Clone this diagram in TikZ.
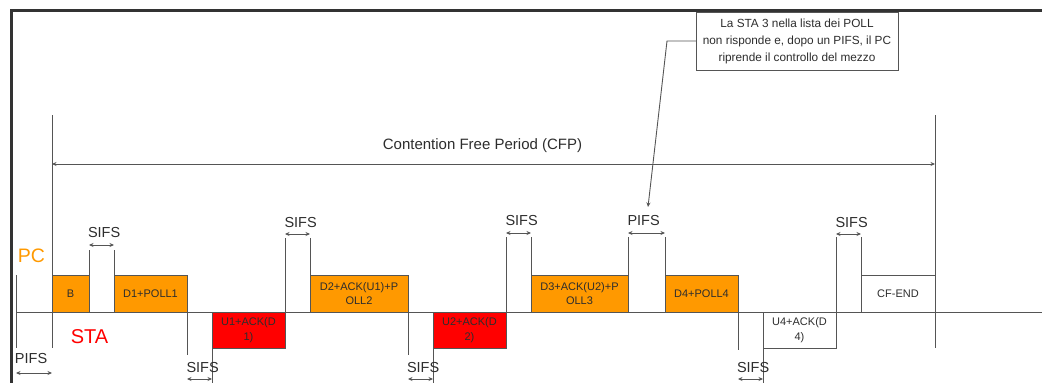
\documentclass[tikz,border=0pt]{standalone}
\usepackage{fontspec}
\setmainfont{Liberation Sans}
\usetikzlibrary{arrows.meta}
\definecolor{pcorange}{RGB}{255,153,0}
\definecolor{stared}{RGB}{255,0,0}
\definecolor{ink}{RGB}{45,45,45}
\definecolor{linec}{RGB}{85,85,85}
\begin{document}
\begin{tikzpicture}[x=1pt,y=-1pt,
  every node/.style={inner sep=0pt, outer sep=0pt},
  pkt/.style={draw=linec, line width=0.8pt, fill=pcorange, align=center,
    font=\fontsize{11}{14.5}\selectfont, text=ink, minimum height=37pt},
  upkt/.style={pkt, fill=stared, minimum height=36pt},
  wpkt/.style={pkt, fill=white},
  vline/.style={draw=linec, line width=0.9pt},
  lab/.style={font=\fontsize{14.5}{16}\selectfont, text=ink, anchor=west},
  span/.style={draw=linec, line width=0.8pt,
    {Stealth[length=4.5pt,width=4pt]}-{Stealth[length=4.5pt,width=4pt]}},
  ptr/.style={draw=linec, line width=0.9pt, -{Stealth[length=4.5pt,width=4pt]}},
  callout/.style={draw=linec, line width=1pt, fill=white, align=center,
    font=\fontsize{11.8}{17}\selectfont, text=ink,
    minimum width=202pt, minimum height=58pt}
]
\useasboundingbox (0,0) rectangle (1042,383);
% frame
\draw[line width=3pt, draw=black!80] (11.5,383) -- (11.5,10.5) -- (1042,10.5);

% time line
\draw[vline] (16,312) -- (1042,312);

% packets
\node[pkt, minimum width=37pt] (B) at (70.5,293.5) {B};
\node[pkt, minimum width=73pt] (D1) at (150.5,293.5) {D1+POLL1};
\node[upkt, minimum width=73pt] (U1) at (248.5,330) {U1+ACK(D\\1)};
\node[pkt, minimum width=98pt] (D2) at (359,293.5) {D2+ACK(U1)+P\\OLL2};
\node[upkt, minimum width=73pt] (U2) at (469.5,330) {U2+ACK(D\\2)};
\node[pkt, minimum width=97pt] (D3) at (579.5,293.5) {D3+ACK(U2)+P\\OLL3};
\node[pkt, minimum width=73pt] (D4) at (701.5,293.5) {D4+POLL4};
\node[wpkt, minimum width=73pt, minimum height=36pt] (U4) at (799.5,330) {U4+ACK(D\\4)};
\node[wpkt, minimum width=74pt] (CFE) at (898,293.5) {CF-END};

% vertical markers
\draw[vline] (16,275) -- (16,348);
\draw[vline] (52,115) -- (52,348);
\draw[vline] (B.north east) -- (89,250);
\draw[vline] (D1.north west) -- (114,250);
\draw[vline] (D1.south east) -- (187,355);
\draw[vline] (U1.south west) -- (212,383);
\draw[vline] (U1.north east) -- (285,238);
\draw[vline] (D2.north west) -- (310,238);
\draw[vline] (D2.south east) -- (408,355);
\draw[vline] (U2.south west) -- (433,383);
\draw[vline] (U2.north east) -- (506,237);
\draw[vline] (D3.north west) -- (531,237);
\draw[vline] (D3.north east) -- (628,237);
\draw[vline] (D4.north west) -- (665,237);
\draw[vline] (D4.south east) -- (738,350);
\draw[vline] (U4.south west) -- (763,383);
\draw[vline] (U4.north east) -- (836,237);
\draw[vline] (CFE.north west) -- (861,237);
\draw[vline] (935,115) -- (935,348);

% CFP
\node[font=\fontsize{15}{16}\selectfont, text=ink] (cfp) at (482.5,146) {Contention Free Period (CFP)};
\draw[span] (52,164) -- (935,164);

% interframe spaces
\node[lab] (pifs0) at (15,359) {PIFS};
\draw[span] (16,373) -- (52,373);
\node[lab] (sifs1) at (88,232.5) {SIFS};
\draw[span] (89,245) -- (114,245);
\node[lab] (sifs2) at (186.5,367.5) {SIFS};
\draw[span] (187,379) -- (212,379);
\node[lab] (sifs3) at (284.5,222.5) {SIFS};
\draw[span] (285,234) -- (310,234);
\node[lab] (sifs4) at (407,367.5) {SIFS};
\draw[span] (408,379) -- (433,379);
\node[lab] (sifs5) at (505.5,221) {SIFS};
\draw[span] (506,233) -- (531,233);
\node[lab] (pifs1) at (627.5,221) {PIFS};
\draw[span] (628,233) -- (665,233);
\node[lab] (sifs6) at (737,367.5) {SIFS};
\draw[span] (738,379) -- (763,379);
\node[lab] (sifs7) at (835.5,222.5) {SIFS};
\draw[span] (836,234) -- (861,234);

% station labels
\node[font=\fontsize{19.5}{20}\selectfont, text=pcorange] (pc) at (31.5,256) {PC};
\node[font=\fontsize{20}{20}\selectfont, text=stared] (sta) at (89.5,337) {STA};

% callout
\node[callout] (note) at (797,41) {La STA 3 nella lista dei POLL\\non risponde e, dopo un PIFS, il PC\\riprende il controllo del mezzo};
\coordinate (tip) at (648,207);
\draw[ptr] (note.west) -- (667,41) -- (tip);
\end{tikzpicture}
\end{document}
